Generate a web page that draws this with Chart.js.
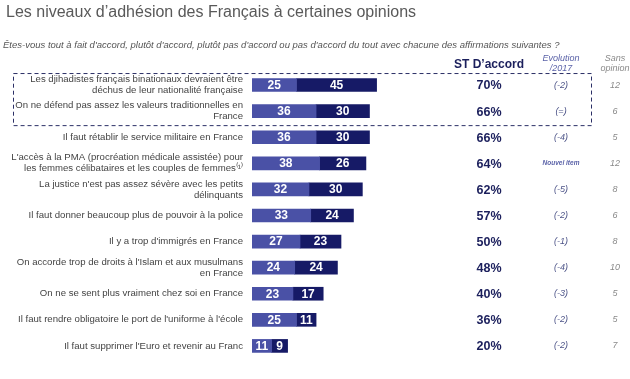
<!DOCTYPE html>
<html><head><meta charset="utf-8">
<script src="https://cdn.jsdelivr.net/npm/chart.js@4/dist/chart.umd.min.js"></script>
<style>
html,body{margin:0;padding:0;background:#fff;}
#wrap{position:relative;width:630px;height:379px;overflow:hidden;font-family:Arial,'Liberation Sans',sans-serif;}
canvas{position:absolute;left:0;top:0;}
.t{position:absolute;white-space:nowrap;}
</style></head><body>
<div id="wrap">
<canvas id="c" width="630" height="379"></canvas>
<div class="t" style="left:6px;top:3px;font-size:16px;color:#595959;">Les niveaux d’adhésion des Français à certaines opinions</div>
<div class="t" style="left:3px;top:39px;font-size:9.5px;font-style:italic;color:#555;">Êtes-vous tout à fait d'accord, plutôt d'accord, plutôt pas d'accord ou pas d'accord du tout avec chacune des affirmations suivantes ?</div>
<div class="t" style="left:440px;top:57px;width:98px;text-align:center;font-size:12px;font-weight:bold;color:#1b1f5c;">ST D’accord</div>
<div class="t" style="left:531px;top:53px;width:60px;text-align:center;font-size:9px;font-style:italic;color:#5a62a8;line-height:10px;">Evolution<br>/2017</div>
<div class="t" style="left:590px;top:53px;width:50px;text-align:center;font-size:9px;font-style:italic;color:#8a8a8a;line-height:10px;">Sans<br>opinion</div>
</div>
<script>
const categories = [
  ["Les djihadistes français binationaux devraient être", "déchus de leur nationalité française"],
  ["On ne défend pas assez les valeurs traditionnelles en", "France"],
  "Il faut rétablir le service militaire en France",
  ["L'accès à la PMA (procréation médicale assistée) pour", "les femmes célibataires et les couples de femmes⁽¹⁾"],
  ["La justice n'est pas assez sévère avec les petits", "délinquants"],
  "Il faut donner beaucoup plus de pouvoir à la police",
  "Il y a trop d'immigrés en France",
  ["On accorde trop de droits à l'Islam et aux musulmans", "en France"],
  "On ne se sent plus vraiment chez soi en France",
  "Il faut rendre obligatoire le port de l'uniforme à l'école",
  "Il faut supprimer l'Euro et revenir au Franc"
];
const toutAFait = [25, 36, 36, 38, 32, 33, 27, 24, 23, 25, 11];
const plutot    = [45, 30, 30, 26, 30, 24, 23, 24, 17, 11, 9];
const stAccord  = ["70%", "66%", "66%", "64%", "62%", "57%", "50%", "48%", "40%", "36%", "20%"];
const evolution = ["(-2)", "(=)", "(-4)", "Nouvel item", "(-5)", "(-2)", "(-1)", "(-4)", "(-3)", "(-2)", "(-2)"];
const sansOpinion = ["12", "6", "5", "12", "8", "6", "8", "10", "5", "5", "7"];

const FONT = "Arial, 'Liberation Sans', sans-serif";

const extras = {
  id: 'extras',
  afterDatasetsDraw(chart) {
    const ctx = chart.ctx;
    const ys = chart.scales.y;
    ctx.save();
    chart.data.datasets.forEach((ds, di) => {
      const meta = chart.getDatasetMeta(di);
      meta.data.forEach((bar, i) => {
        const p = bar.getProps(['x', 'base', 'y'], true);
        const cx = (p.x + p.base) / 2;
        ctx.fillStyle = '#ffffff';
        ctx.font = 'bold 12px ' + FONT;
        ctx.textAlign = 'center';
        ctx.textBaseline = 'middle';
        ctx.fillText(String(ds.data[i]), cx, p.y + 0.5);
      });
    });
    categories.forEach((c, i) => {
      const y = ys.getPixelForValue(i);
      ctx.textAlign = 'center';
      ctx.textBaseline = 'middle';
      ctx.fillStyle = '#1b1f5c';
      ctx.font = 'bold 12.5px ' + FONT;
      ctx.fillText(stAccord[i], 489, y + 1);
      if (evolution[i].length > 5) {
        ctx.font = 'italic bold 6.5px ' + FONT;
        ctx.fillStyle = '#5a62a8';
      } else {
        ctx.font = 'italic 9px ' + FONT;
        ctx.fillStyle = '#4d5488';
      }
      ctx.fillText(evolution[i], 561, y);
      ctx.font = 'italic 9px ' + FONT;
      ctx.fillStyle = '#8a8a8a';
      ctx.fillText(sansOpinion[i], 615, y);
    });
    const y0 = ys.getPixelForValue(0), y1 = ys.getPixelForValue(1);
    ctx.strokeStyle = '#2b2f66';
    ctx.lineWidth = 1;
    ctx.setLineDash([4, 3]);
    ctx.strokeRect(13.5, y0 - 11.5, 578, (y1 - y0) + 26);
    ctx.restore();
  }
};

new Chart(document.getElementById('c'), {
  type: 'bar',
  data: {
    labels: categories,
    datasets: [
      { label: "Tout à fait d'accord", data: toutAFait, backgroundColor: '#4a51a6', barThickness: 13 },
      { label: "Plutôt d'accord", data: plutot, backgroundColor: '#161a66', barThickness: 13 }
    ]
  },
  options: {
    indexAxis: 'y',
    responsive: false,
    animation: false,
    layout: { padding: { top: 72, bottom: 15, left: 0, right: 200 } },
    plugins: { legend: { display: false }, tooltip: { enabled: false } },
    scales: {
      x: { stacked: true, min: 0, max: 100, display: false },
      y: {
        stacked: true,
        grid: { display: false, drawTicks: false },
        border: { display: false },
        ticks: { padding: 9, color: '#444', font: { family: FONT, size: 9.6, lineHeight: 1.15 }, autoSkip: false },
        afterFit(scale) { scale.width = 252; }
      }
    }
  },
  plugins: [extras]
});
</script>
</body></html>
